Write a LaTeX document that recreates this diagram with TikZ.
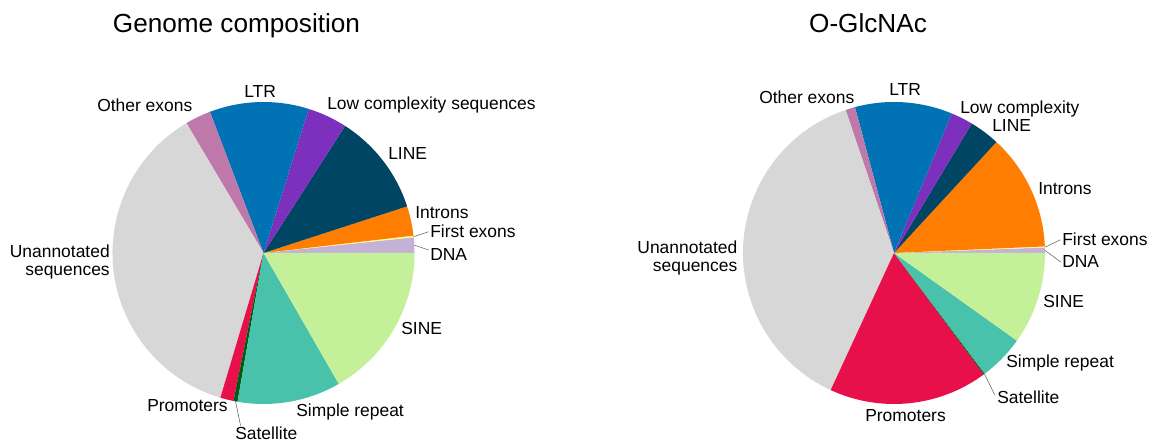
\documentclass[tikz,border=0pt]{standalone}
\usepackage{fontspec}
\setmainfont{Liberation Sans}
\usepackage{tikz}
\usetikzlibrary{calc}
\definecolor{PCDna}{HTML}{C4B2D6}
\definecolor{PCFirst}{HTML}{FFFF96}
\definecolor{PCIntron}{HTML}{FF7D00}
\definecolor{PCLine}{HTML}{004664}
\definecolor{PCLowc}{HTML}{7D2FBE}
\definecolor{PCLtr}{HTML}{0173B4}
\definecolor{PCOther}{HTML}{BE78AA}
\definecolor{PCUnann}{HTML}{D7D7D7}
\definecolor{PCProm}{HTML}{E8104A}
\definecolor{PCSat}{HTML}{005A14}
\definecolor{PCSimple}{HTML}{48C2AA}
\definecolor{PCSine}{HTML}{C4F09A}
\definecolor{PCLead}{HTML}{666666}

\begin{document}
\begin{tikzpicture}[x=0.025cm,y=0.025cm,
  lbl/.style={font=\fontsize{12.4}{13.5}\selectfont,inner sep=1pt},
  ttl/.style={font=\fontsize{18.6}{22}\selectfont,inner sep=0pt},
  lead/.style={PCLead,line width=.4pt}]
\path[use as bounding box] (0,0) rectangle (1155,444);
% genome composition
\node[ttl,anchor=base] (gtitle) at (236.5,411) {Genome composition};
\coordinate (gc) at (263.5,191);
\fill[PCDna] (gc) -- ++(0:151) arc[start angle=0,end angle=6,radius=151] -- cycle;
\fill[PCFirst] (gc) -- ++(6:151) arc[start angle=6,end angle=6.6,radius=151] -- cycle;
\fill[PCIntron] (gc) -- ++(6.6:151) arc[start angle=6.6,end angle=18,radius=151] -- cycle;
\fill[PCLine] (gc) -- ++(18:151) arc[start angle=18,end angle=57.3,radius=151] -- cycle;
\fill[PCLowc] (gc) -- ++(57.3:151) arc[start angle=57.3,end angle=72.6,radius=151] -- cycle;
\fill[PCLtr] (gc) -- ++(72.6:151) arc[start angle=72.6,end angle=110.8,radius=151] -- cycle;
\fill[PCOther] (gc) -- ++(110.8:151) arc[start angle=110.8,end angle=120.7,radius=151] -- cycle;
\fill[PCUnann] (gc) -- ++(120.7:151) arc[start angle=120.7,end angle=253.4,radius=151] -- cycle;
\fill[PCProm] (gc) -- ++(253.4:151) arc[start angle=253.4,end angle=258.5,radius=151] -- cycle;
\fill[PCSat] (gc) -- ++(258.5:151) arc[start angle=258.5,end angle=260.1,radius=151] -- cycle;
\fill[PCSimple] (gc) -- ++(260.1:151) arc[start angle=260.1,end angle=299.9,radius=151] -- cycle;
\fill[PCSine] (gc) -- ++(299.9:151) arc[start angle=299.9,end angle=360,radius=151] -- cycle;
\node[lbl,anchor=base west] (gother) at (95.6,332.3) {Other exons};
\node[lbl,anchor=base west] (gltr) at (242.6,346.7) {LTR};
\node[lbl,anchor=base west] (glowc) at (325.6,334) {Low complexity sequences};
\node[lbl,anchor=base west] (gline) at (386.6,284) {LINE};
\node[lbl,anchor=base west] (gintron) at (413.6,225) {Introns};
\node[lbl,anchor=base west] (gfirst) at (428.6,206) {First exons};
\node[lbl,anchor=base west] (gdna) at (428.6,183) {DNA};
\node[lbl,anchor=base east,align=right] (gunann) at (111.4,168) {Unannotated\\sequences};
\node[lbl,anchor=base west] (gsine) at (399.6,109) {SINE};
\node[lbl,anchor=base west] (gsimple) at (294.6,27) {Simple repeat};
\node[lbl,anchor=base west] (gprom) at (145.6,32) {Promoters};
\node[lbl,anchor=base west] (gsat) at (233.6,4) {Satellite};
\coordinate (gfirstp) at (413.5,207.3);
\coordinate (gdnap) at (414.3,198.9);
\coordinate (gsatp) at (235.5,42.6);
\draw[lead] (gfirstp) -- (gfirst.west);
\draw[lead] (gdnap) -- ($(gdna.west)+(0,5)$);
\draw[lead] (gsatp) -- ($(gsat.north west)+(7,0)$);
% o-glcnac
\node[ttl,anchor=base] (otitle) at (868,411) {O-GlcNAc};
\coordinate (oc) at (894,191);
\fill[PCDna] (oc) -- ++(0:151) arc[start angle=0,end angle=2.1,radius=151] -- cycle;
\fill[PCFirst] (oc) -- ++(2.1:151) arc[start angle=2.1,end angle=2.5,radius=151] -- cycle;
\fill[PCIntron] (oc) -- ++(2.5:151) arc[start angle=2.5,end angle=47.3,radius=151] -- cycle;
\fill[PCLine] (oc) -- ++(47.3:151) arc[start angle=47.3,end angle=59,radius=151] -- cycle;
\fill[PCLowc] (oc) -- ++(59:151) arc[start angle=59,end angle=67.5,radius=151] -- cycle;
\fill[PCLtr] (oc) -- ++(67.5:151) arc[start angle=67.5,end angle=105,radius=151] -- cycle;
\fill[PCOther] (oc) -- ++(105:151) arc[start angle=105,end angle=108.7,radius=151] -- cycle;
\fill[PCUnann] (oc) -- ++(108.7:151) arc[start angle=108.7,end angle=245.2,radius=151] -- cycle;
\fill[PCProm] (oc) -- ++(245.2:151) arc[start angle=245.2,end angle=306.5,radius=151] -- cycle;
\fill[PCSat] (oc) -- ++(306.5:151) arc[start angle=306.5,end angle=306.9,radius=151] -- cycle;
\fill[PCSimple] (oc) -- ++(306.9:151) arc[start angle=306.9,end angle=324.5,radius=151] -- cycle;
\fill[PCSine] (oc) -- ++(324.5:151) arc[start angle=324.5,end angle=360,radius=151] -- cycle;
\node[lbl,anchor=base west] (oother) at (757.6,340) {Other exons};
\node[lbl,anchor=base west] (oltr) at (887.6,348) {LTR};
\node[lbl,anchor=base west] (olowc) at (958.6,330) {Low complexity};
\node[lbl,anchor=base west] (oline) at (990.6,312) {LINE};
\node[lbl,anchor=base west] (ointron) at (1036.6,249) {Introns};
\node[lbl,anchor=base west] (ofirst) at (1060.6,198) {First exons};
\node[lbl,anchor=base west] (odna) at (1060.6,176) {DNA};
\node[lbl,anchor=base east,align=right] (ounann) at (739,172) {Unannotated\\sequences};
\node[lbl,anchor=base west] (osine) at (1041.6,136) {SINE};
\node[lbl,anchor=base west] (osimple) at (1004.6,76) {Simple repeat};
\node[lbl,anchor=base west] (osat) at (995.6,40) {Satellite};
\node[lbl,anchor=base west] (oprom) at (863.6,22.3) {Promoters};
\coordinate (ofirstp) at (1044.9,196.8);
\coordinate (odnap) at (1045,193.6);
\coordinate (osatp) at (984.4,70.1);
\draw[lead] (ofirstp) -- (ofirst.west);
\draw[lead] (odnap) -- (odna.west);
\draw[lead] (osatp) -- ($(osat.north west)+(-1,-5)$);
\end{tikzpicture}
\end{document}
